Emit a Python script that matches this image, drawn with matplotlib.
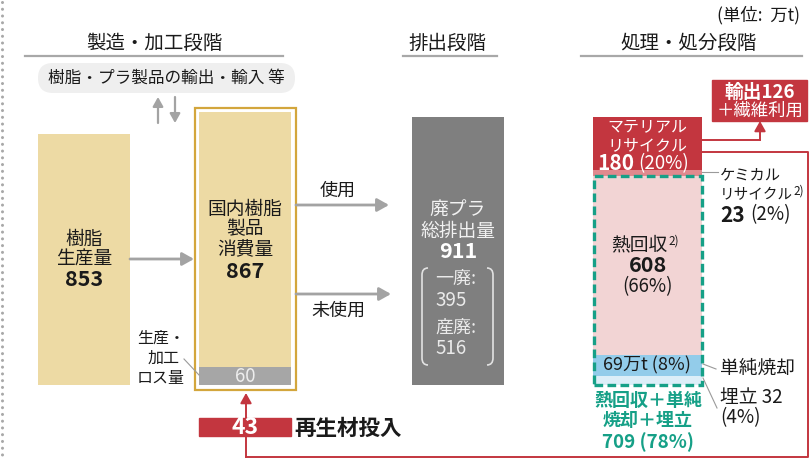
#!/usr/bin/env python3
# プラスチックのマテリアルフロー図（製造・加工 → 排出 → 処理・処分）を再現する。
# 棒の高さは万t単位のデータから描き、注記類はピクセル座標の重ね軸に置く。
import matplotlib

matplotlib.use("Agg")
import matplotlib.pyplot as plt
from matplotlib.patches import FancyBboxPatch, PathPatch, Rectangle
from matplotlib.path import Path

plt.rcParams["font.family"] = ["Noto Sans CJK JP", "DejaVu Sans"]

# データ（単位: 万t）
resin_production = 853
domestic_consumption = 867
process_loss = 60
waste_total = 911
general_waste = 395
industrial_waste = 516
recycled_input = 43
export_amount = 126

# 処理・処分の内訳（下から積み上げ）
treatment_keys = ["landfill", "incineration", "thermal", "chemical", "material"]
treatment_values = [32, 69, 608, 23, 180]
treatment_shares = [4, 8, 66, 2, 20]
combined_value = 709
combined_share = 78

# 色
TAN = "#EDDAA4"
GOLD = "#D3A63C"
LOSS_GREY = "#A6A6A6"
WASTE_GREY = "#7F7F7F"
ARROW_GREY = "#A3A3A3"
RED = "#C3363F"
TEAL = "#16A087"
TEXT = "#1A1A1A"
TREAT_COLORS = {
    "landfill": "#DCEEF8",
    "incineration": "#93CCEA",
    "thermal": "#F2D4D4",
    "chemical": "#E1898E",
    "material": RED,
}

# 万t → ピクセルの縮尺（911万t が 268px）
BASE_Y = 385
PX_PER_UNIT = 268 / 911
W, H = 811, 459


def txt(ax, x, y, s, size, color=TEXT, weight="normal", ha="center"):
    ax.text(x, y, s, fontsize=size, color=color, fontweight=weight,
            ha=ha, va="center")


def arrow(ax, start, end, color=ARROW_GREY, lw=2.0, scale=14):
    ax.annotate(
        "", xy=end, xytext=start,
        arrowprops=dict(
            arrowstyle="-|>,head_length=0.5,head_width=0.28",
            color=color, lw=lw, shrinkA=0, shrinkB=0, mutation_scale=scale,
        ),
    )


def main():
    fig = plt.figure(figsize=(W / 100, H / 100), dpi=100)

    # 棒用の軸（y は万t）
    bx = fig.add_axes([0, 0, 1, 1])
    bx.set_xlim(0, W)
    bx.set_ylim(-(H - BASE_Y) / PX_PER_UNIT, BASE_Y / PX_PER_UNIT)
    bx.axis("off")

    # 注記用の軸（ピクセル座標、y は下向き）
    ax = fig.add_axes([0, 0, 1, 1])
    ax.set_xlim(0, W)
    ax.set_ylim(H, 0)
    ax.axis("off")
    ax.patch.set_visible(False)

    # 左端の点線
    ax.plot([2, 2], [2, H], color="#A8A8A8", lw=2.2,
            linestyle=(0, (0.01, 2.2)), dash_capstyle="round")

    # 見出しと下線
    for label, cx, x0, x1 in [("製造・加工段階", 154, 25, 283),
                              ("排出段階", 447, 403, 497),
                              ("処理・処分段階", 689, 581, 802)]:
        txt(ax, cx, 43, label, 14)
        ax.plot([x0, x1], [56, 56], color="#A8A8A8", lw=1.6)
    txt(ax, 800, 15, "(単位:  万t)", 12.5, ha="right")

    # 輸出入の吹き出し
    ax.add_patch(FancyBboxPatch((38, 63), 257, 30,
                                boxstyle="round,pad=0,rounding_size=15",
                                fc="#EFEFEF", ec="none"))
    txt(ax, 166, 78, "樹脂・プラ製品の輸出・輸入 等", 12)
    arrow(ax, (158, 123), (158, 97), lw=1.6, scale=11)
    arrow(ax, (175, 97), (175, 123), lw=1.6, scale=11)

    # 棒: 樹脂生産量、国内消費量（ロス量を下に積む）、廃プラ総排出量
    bx.bar(84, resin_production, width=92, color=TAN)
    bx.bar(245, process_loss, width=92, color=LOSS_GREY)
    bx.bar(245, domestic_consumption, width=92, bottom=process_loss, color=TAN)
    bx.bar(458, waste_total, width=92, color=WASTE_GREY)

    # 処理・処分の積み上げ棒
    bottom = 0
    for key, val in zip(treatment_keys, treatment_values):
        bx.bar(647.5, val, width=109, bottom=bottom, color=TREAT_COLORS[key])
        bottom += val
    bx.add_patch(Rectangle((593.5, 0), 108.5, combined_value, fill=False,
                           ec=TEAL, lw=2.4, linestyle=(0, (2.6, 1.3)), zorder=5))

    # 国内消費量の枠
    ax.add_patch(Rectangle((194.5, 107.5), 101, 282.5, fill=False, ec=GOLD, lw=1.6))

    # 流れの矢印
    arrow(ax, (130, 259), (194, 259))
    arrow(ax, (296, 205), (389, 205))
    arrow(ax, (296, 294), (391, 294))
    txt(ax, 338, 191, "使用", 13)
    txt(ax, 338, 311, "未使用", 13)

    # 樹脂生産量ラベル
    txt(ax, 84, 239, "樹脂", 13.5)
    txt(ax, 84, 259, "生産量", 13.5)
    txt(ax, 84, 280, f"{resin_production}", 15.5, weight="bold")

    # 国内消費量ラベル
    txt(ax, 245, 209, "国内樹脂", 13.5)
    txt(ax, 245, 229, "製品", 13.5)
    txt(ax, 245, 250, "消費量", 13.5)
    txt(ax, 245, 272, f"{domestic_consumption}", 15.5, weight="bold")
    txt(ax, 245, 376, f"{process_loss}", 13.5, color="#EDEDED")

    # ロス量
    txt(ax, 161, 338, "生産・", 11.5)
    txt(ax, 164, 358, "加工", 11.5)
    txt(ax, 161, 378, "ロス量", 11.5)
    ax.plot([184, 199], [359, 375], color="#9A9A9A", lw=0.8)

    # 廃プラ総排出量ラベル
    txt(ax, 458, 210, "廃プラ", 13.5, color="#F2F2F2")
    txt(ax, 458, 231, "総排出量", 13.5, color="#F2F2F2")
    txt(ax, 458, 252, f"{waste_total}", 15.5, color="white", weight="bold")
    for xs in [(428, 422, 422, 422, 422, 428), (487, 493, 493, 493, 493, 487)]:
        verts = [(xs[0], 268), (xs[1], 268), (xs[2], 275),
                 (xs[3], 358), (xs[4], 365), (xs[5], 365)]
        codes = [Path.MOVETO, Path.CURVE3, Path.CURVE3,
                 Path.LINETO, Path.CURVE3, Path.CURVE3]
        ax.add_patch(PathPatch(Path(verts, codes), fill=False,
                               ec="#E2E2E2", lw=1.2))
    txt(ax, 435, 279, "一廃:", 13, color="#EAEAEA", ha="left")
    txt(ax, 435, 300, f"{general_waste}", 13.5, color="#EAEAEA", ha="left")
    txt(ax, 435, 328, "産廃:", 13, color="#EAEAEA", ha="left")
    txt(ax, 435, 349, f"{industrial_waste}", 13.5, color="#EAEAEA", ha="left")

    # 処理・処分ラベル
    shares = dict(zip(treatment_keys, treatment_shares))
    values = dict(zip(treatment_keys, treatment_values))
    txt(ax, 647, 127, "マテリアル", 11.5, color="white")
    txt(ax, 647, 146, "リサイクル", 11.5, color="white")
    txt(ax, 634, 164, f"{values['material']}", 15, color="white",
        weight="bold", ha="right")
    txt(ax, 638, 164, f"({shares['material']}%)", 13.5, color="white", ha="left")

    txt(ax, 667, 245, "熱回収", 13.5, ha="right")
    ax.text(668, 241, "2)", fontsize=8.5, color=TEXT, ha="left", va="center")
    txt(ax, 648, 266, f"{values['thermal']}", 15.5, weight="bold")
    txt(ax, 648, 287, f"({shares['thermal']}%)", 13.5)
    txt(ax, 647, 365, f"{values['incineration']}万t ({shares['incineration']}%)", 13)

    txt(ax, 648, 401, "熱回収＋単純", 13, color=TEAL, weight="bold")
    txt(ax, 648, 421, "焼却＋埋立", 13, color=TEAL, weight="bold")
    txt(ax, 648, 442, f"{combined_value} ({combined_share}%)", 13.5,
        color=TEAL, weight="bold")

    # 右側の注記
    ax.plot([702, 718], [172, 172], color="#9A9A9A", lw=0.8)
    txt(ax, 720, 175, "ケミカル", 11, ha="left")
    txt(ax, 720, 195, "リサイクル", 10.5, ha="left")
    ax.text(793, 191, "2)", fontsize=8.5, color=TEXT, ha="left", va="center")
    txt(ax, 720, 215, f"{values['chemical']}", 15, weight="bold", ha="left")
    txt(ax, 750, 215, f"({shares['chemical']}%)", 13.5, ha="left")

    ax.plot([703, 716], [364, 369], color="#9A9A9A", lw=0.8)
    txt(ax, 720, 368, "単純焼却", 13.5, ha="left")
    ax.plot([703, 717], [378, 408], color="#9A9A9A", lw=0.8)
    txt(ax, 720, 397, f"埋立 {values['landfill']}", 13.5, ha="left")
    txt(ax, 720, 418, f"({shares['landfill']}%)", 13.5, ha="left")

    # 輸出
    ax.add_patch(Rectangle((712, 80), 95, 41, color=RED))
    txt(ax, 760, 92, f"輸出{export_amount}", 13.5, color="white", weight="bold")
    txt(ax, 760, 111, "＋繊維利用", 12.5, color="white")
    ax.plot([702, 760], [140, 140], color=RED, lw=1.4)
    arrow(ax, (760, 140), (760, 121), color=RED, lw=1.4, scale=12)

    # 再生材投入の戻り線
    ax.plot([702, 808, 808, 246], [152, 152, 457, 457], color=RED, lw=1.4)
    ax.add_patch(Rectangle((199, 418), 92, 18, color=RED))
    arrow(ax, (246, 457), (246, 393), color=RED, lw=1.4, scale=12)
    txt(ax, 245, 428, f"{recycled_input}", 16.5, color="white", weight="bold")
    txt(ax, 294, 428, "再生材投入", 15.5, weight="bold", ha="left")

    fig.savefig("out.png", dpi=100)
    plt.close(fig)


if __name__ == "__main__":
    main()
